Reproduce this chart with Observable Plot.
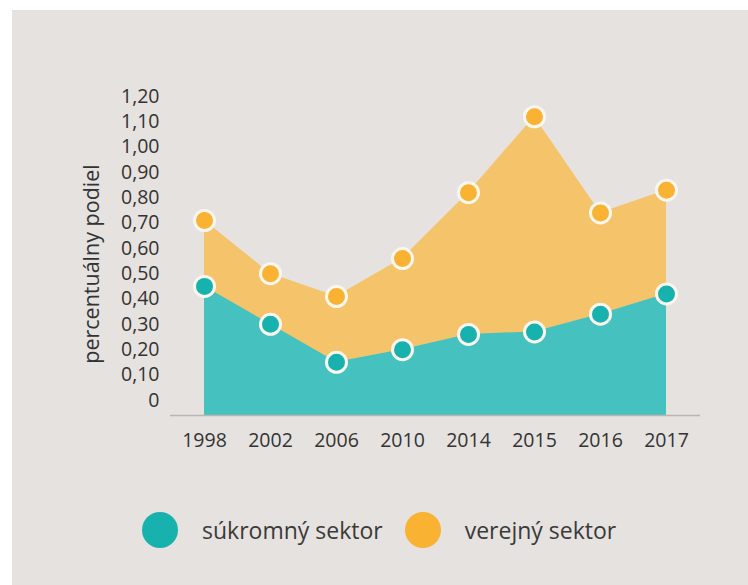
<!DOCTYPE html>
<html>
<head>
<meta charset="utf-8">
<script src="https://cdn.jsdelivr.net/npm/d3@7"></script>
<script src="https://cdn.jsdelivr.net/npm/@observablehq/plot@0.6"></script>
<style>
  html, body { margin: 0; padding: 0; background: #ffffff; }
  #card { position: absolute; left: 12px; top: 10px; width: 736px; height: 575px; background: #e6e2e0; font-family: "Open Sans", sans-serif; }
  #chart { position: absolute; left: 0; top: 0; }
  #legend { position: absolute; left: 130px; top: 502px; display: flex; align-items: center; font-size: 23px; color: #3a3a3a; }
  .sw { width: 36px; height: 36px; border-radius: 50%; display: inline-block; margin-right: 24px; }
  .item { display: flex; align-items: center; margin-right: 22px; }
</style>
</head>
<body>
<div id="card">
  <div id="chart"></div>
  <div id="legend"></div>
</div>
<script>
const years = ["1998", "2002", "2006", "2010", "2014", "2015", "2016", "2017"];
const publicSector = [0.71, 0.50, 0.41, 0.56, 0.82, 1.12, 0.74, 0.83];
const privateSector = [0.45, 0.30, 0.15, 0.20, 0.26, 0.27, 0.34, 0.42];
const yTicks = [0, 0.1, 0.2, 0.3, 0.4, 0.5, 0.6, 0.7, 0.8, 0.9, 1.0, 1.1, 1.2];
const seriesNames = ["súkromný sektor", "verejný sektor"];
const yLabel = "percentuálny podiel";
const baseline = -0.06;

const colors = {
  privArea: "#45c2c0", privDot: "#17b2ae",
  pubArea: "#f4c36a", pubDot: "#f9b232"
};

const data = years.map((y, i) => ({year: y, pub: publicSector[i], priv: privateSector[i]}));

const fmt = d => d === 0 ? "0" : d.toFixed(2).replace(".", ",");

const chart = Plot.plot({
  width: 736,
  height: 460,
  marginLeft: 158,
  marginRight: 48,
  marginTop: 86,
  marginBottom: 55,
  style: { background: "transparent", fontFamily: "'Open Sans', sans-serif", color: "#333" },
  x: { type: "point", domain: years, padding: 0.5 },
  y: { domain: [baseline, 1.2] },
  marks: [
    Plot.areaY(data, { x: "year", y1: baseline, y2: "pub", fill: colors.pubArea }),
    Plot.areaY(data, { x: "year", y1: baseline, y2: "priv", fill: colors.privArea }),
    Plot.ruleY([baseline], { stroke: "#b9b5b2", strokeWidth: 1.5 }),
    Plot.dot(data, { x: "year", y: "pub", r: 10, fill: colors.pubDot, stroke: "#fbf7ee", strokeWidth: 3 }),
    Plot.dot(data, { x: "year", y: "priv", r: 10, fill: colors.privDot, stroke: "#fbf7ee", strokeWidth: 3 }),
    Plot.axisY(yTicks, { tickSize: 0, tickPadding: 11, tickFormat: fmt, fontSize: 19.5, fill: "#333", label: null }),
    Plot.text([yLabel], { frameAnchor: "left", textAnchor: "middle", rotate: -90, dx: -78, dy: 8, fontSize: 21.5, fill: "#333" }),
    Plot.axisX({ tickSize: 0, tickPadding: 18, fontSize: 19.5, fill: "#333", label: null })
  ]
});
document.getElementById("chart").appendChild(chart);

const legend = document.getElementById("legend");
[[seriesNames[0], colors.privDot], [seriesNames[1], colors.pubDot]].forEach(([name, c]) => {
  const it = document.createElement("div");
  it.className = "item";
  it.innerHTML = `<span class="sw" style="background:${c}"></span><span>${name}</span>`;
  legend.appendChild(it);
});
</script>
</body>
</html>
